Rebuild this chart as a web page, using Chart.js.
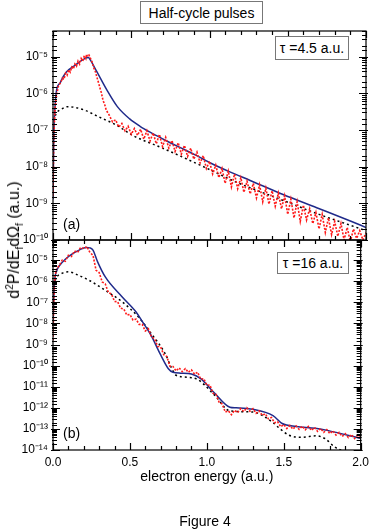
<!DOCTYPE html>
<html>
<head>
<meta charset="utf-8">
<script src="https://cdn.jsdelivr.net/npm/chart.js@4.4.1/dist/chart.umd.min.js"></script>
<style>
  body { margin:0; background:#fff; font-family:"Liberation Sans", Arial, Helvetica, sans-serif; color:#000; }
  #wrap { position:relative; width:374px; height:530px; overflow:hidden; }
  canvas { position:absolute; left:0; top:0; }
  .box { position:absolute; border:1px solid #777; background:#fff; font-size:14px; display:flex; align-items:center; justify-content:center; box-sizing:border-box; white-space:nowrap; }
  .lbl { position:absolute; font-size:14px; white-space:nowrap; }
  sup, sub { font-size:10px; line-height:0; }
</style>
</head>
<body>
<div id="wrap">
  <canvas id="ca" width="374" height="530"></canvas>
  <canvas id="cb" width="374" height="530"></canvas>
  <div class="box" style="left:140px;top:1px;width:123px;height:23px;">Half-cycle pulses</div>
  <div class="box" style="left:275px;top:36px;width:74px;height:24px;">τ =4.5 a.u.</div>
  <div class="box" style="left:277px;top:252px;width:72px;height:22px;">τ =16 a.u.</div>
  <div class="lbl" style="left:63px;top:216px;">(a)</div>
  <div class="lbl" style="left:63px;top:425px;">(b)</div>
  <div class="lbl" style="left:14px;top:240px;font-size:16px;transform:translate(-50%,-50%) rotate(-90deg);">d<sup>2</sup>P/dE<sub>f</sub>dΩ<sub>f</sub> (a.u.)</div>
  <div class="lbl" style="left:205px;top:521px;transform:translate(-50%,-50%);">Figure 4</div>
</div>
<script>
// ---------- Panel (a): tau = 4.5 a.u. ----------
const energyA_blue = [0,0.005,0.013,0.024,0.045,0.066,0.087,0.13,0.17,0.2,0.226,0.24,0.28,0.343,0.41,0.49,0.556,0.62,0.705,0.8,0.918,1.0,1.13,1.26,1.47,1.685,1.9,2.0];
const blueA = [1.3e-9,6.3e-8,4.4e-7,1.3e-6,1.9e-6,2.9e-6,3.9e-6,5.4e-6,7.2e-6,8.7e-6,9.5e-6,7.9e-6,3.9e-6,1.26e-6,4.4e-7,2.0e-7,1.26e-7,8.7e-8,5.6e-8,3.5e-8,2.0e-8,1.3e-8,7.2e-9,4.2e-9,1.74e-9,7.6e-10,3.3e-10,2.2e-10];

const energyA_black = [0.005,0.02,0.05,0.09,0.13,0.2,0.3,0.4,0.51,0.7,0.94,1.19,1.43,1.7,2.0];
const blackA = [1.8e-7,2.8e-7,3.6e-7,4.3e-7,4.2e-7,3.5e-7,2.2e-7,1.4e-7,7.1e-8,3.2e-8,1.1e-8,3.5e-9,1.4e-9,5.0e-10,1.8e-10];

const energyA_red = [0,0.004,0.008,0.012,0.018,0.025,0.035,0.05,0.06,0.07,0.08,0.09,0.1,0.11,0.12,0.13,0.14,0.15,0.16,0.17,0.18,0.19,0.2,0.21,0.215,0.22,0.23,0.24,0.25,0.26,0.27,0.28,0.29,0.3,0.31,0.32,0.33,0.34,0.36,0.38,0.4,0.42,0.44,0.46,0.48,0.5,0.52,0.54,0.56,0.58,0.6,0.62,0.64,0.66,0.68,0.7,0.72,0.74,0.76,0.78,0.8,0.82,0.84,0.86,0.88,0.9,0.92,0.94,0.96,0.98,1.0,1.02,1.04,1.06,1.08,1.1,1.12,1.14,1.16,1.18,1.2,1.22,1.24,1.26,1.28,1.3,1.32,1.34,1.36,1.38,1.4,1.42,1.44,1.46,1.48,1.5,1.52,1.54,1.56,1.58,1.6,1.62,1.64,1.66,1.68,1.7,1.72,1.74,1.76,1.78,1.8,1.82,1.84,1.86,1.88,1.9,1.92,1.94,1.96,1.98,2.0];
const redA = [1.6e-9,2.5e-8,1.26e-7,3.2e-7,6.3e-7,1.0e-6,1.6e-6,2.0e-6,2.6e-6,2.4e-6,3.5e-6,3.1e-6,4.4e-6,3.8e-6,5.2e-6,4.6e-6,6.3e-6,5.5e-6,7.6e-6,6.3e-6,8.9e-6,7.6e-6,1.07e-5,8.9e-6,1.17e-5,1.0e-5,1.1e-5,8.9e-6,7.1e-6,5.0e-6,4.0e-6,2.8e-6,2.0e-6,1.4e-6,1.0e-6,6.3e-7,5.0e-7,3.5e-7,2.5e-7,1.66e-7,1.9e-7,1.2e-7,1.5e-7,9.5e-8,1.26e-7,7.6e-8,1.1e-7,7.1e-8,1.05e-7,5.6e-8,9.5e-8,5.0e-8,8.3e-8,4.2e-8,7.6e-8,3.5e-8,6.3e-8,3.2e-8,5.2e-8,2.6e-8,4.5e-8,2.2e-8,3.8e-8,1.9e-8,3.2e-8,1.6e-8,2.5e-8,1.26e-8,2.0e-8,8.9e-9,1.4e-8,6.3e-9,1.1e-8,5.0e-9,8.9e-9,3.5e-9,7.6e-9,2.8e-9,6.3e-9,2.5e-9,5.0e-9,2.0e-9,4.0e-9,1.8e-9,3.5e-9,1.4e-9,3.2e-9,1.1e-9,2.6e-9,9.5e-10,2.2e-9,8.3e-10,1.9e-9,7.1e-10,1.6e-9,5.0e-10,1.3e-9,4.0e-10,1.1e-9,3.2e-10,8.9e-10,3.5e-10,7.1e-10,2.8e-10,5.6e-10,2.0e-10,5.0e-10,1.6e-10,4.0e-10,1.4e-10,3.2e-10,1.26e-10,2.8e-10,1.0e-10,2.2e-10,8.9e-11,2.0e-10,1.1e-10,1.8e-10,1.0e-10,1.6e-10];

// ---------- Panel (b): tau = 16 a.u. ----------
const energyB_blue = [0,0.005,0.011,0.025,0.045,0.08,0.13,0.17,0.215,0.24,0.26,0.29,0.34,0.45,0.54,0.58,0.64,0.70,0.75,0.78,0.83,0.9,0.96,1.05,1.15,1.19,1.30,1.43,1.49,1.58,1.705,1.79,2.0];
const blueB = [1.0e-8,1.6e-7,1.1e-6,3.2e-6,5.8e-6,1.1e-5,2.1e-5,3.0e-5,4.0e-5,3.8e-5,3.0e-5,8.3e-6,1.6e-6,1.8e-7,3.5e-8,1.26e-8,2.5e-9,3.2e-10,7.1e-11,4.8e-11,4.4e-11,4.0e-11,2.4e-11,5.0e-12,1.07e-12,1.0e-12,8.5e-13,4.3e-13,1.8e-13,1.3e-13,1.07e-13,8.3e-14,3.5e-14];

const energyB_black = [0.005,0.02,0.05,0.1,0.16,0.235,0.34,0.45,0.556,0.64,0.73,0.77,0.8,0.87,0.94,1.05,1.15,1.3,1.43,1.47,1.535,1.62,1.71,1.77,1.83,1.88,1.92];
const blackB = [6.3e-7,1.4e-6,2.2e-6,2.8e-6,2.0e-6,1.1e-6,3.7e-7,1.05e-7,2.0e-8,3.2e-9,3.6e-10,7.9e-11,3.5e-11,2.8e-11,2.2e-11,4.0e-12,7.1e-13,6.3e-13,2.0e-13,1.1e-13,5.0e-14,4.0e-14,4.7e-14,3.4e-14,1.4e-14,8.9e-15,5.0e-15];

const energyB_red = [0,0.005,0.01,0.02,0.04,0.06,0.08,0.1,0.12,0.14,0.16,0.18,0.2,0.22,0.24,0.26,0.28,0.3,0.32,0.34,0.36,0.38,0.4,0.42,0.44,0.46,0.48,0.5,0.52,0.54,0.56,0.58,0.6,0.62,0.64,0.66,0.68,0.7,0.72,0.74,0.76,0.78,0.8,0.82,0.84,0.86,0.88,0.9,0.92,0.94,0.96,0.98,1.0,1.02,1.04,1.06,1.08,1.1,1.12,1.14,1.16,1.18,1.2,1.22,1.24,1.26,1.28,1.3,1.32,1.34,1.36,1.38,1.4,1.42,1.44,1.46,1.48,1.5,1.52,1.54,1.56,1.58,1.6,1.62,1.64,1.66,1.68,1.7,1.72,1.74,1.76,1.78,1.8,1.82,1.84,1.86,1.88,1.9,1.92,1.94,1.96,1.98,2.0];
const redB = [1.6e-9,1.0e-7,1.0e-6,3.5e-6,5.5e-6,1.0e-5,8.9e-6,1.7e-5,1.5e-5,2.7e-5,2.3e-5,4.0e-5,3.5e-5,4.4e-5,2.3e-5,1.7e-5,3.3e-6,2.6e-6,9.3e-7,7.4e-7,2.9e-7,2.5e-7,1.1e-7,1.07e-7,5.2e-8,4.8e-8,2.5e-8,2.7e-8,1.45e-8,1.6e-8,9.0e-9,9.0e-9,4.4e-9,5.6e-9,2.3e-9,1.9e-9,8.3e-10,7.6e-10,3.3e-10,2.7e-10,9.3e-11,9.1e-11,5.6e-11,7.8e-11,5.2e-11,7.2e-11,4.8e-11,6.3e-11,3.9e-11,4.9e-11,2.3e-11,2.4e-11,1.17e-11,1.2e-11,4.9e-12,4.3e-12,1.86e-12,1.5e-12,6.3e-13,7.2e-13,4.7e-13,7.6e-13,5.9e-13,9.1e-13,6.6e-13,1.0e-12,6.9e-13,9.1e-13,5.5e-13,7.2e-13,4.4e-13,5.2e-13,3.0e-13,3.5e-13,1.95e-13,2.2e-13,1.26e-13,1.6e-13,1.05e-13,1.45e-13,9.8e-14,1.4e-13,9.5e-14,1.35e-13,9.1e-14,1.3e-13,8.5e-14,1.17e-13,7.6e-14,1.05e-13,6.8e-14,9.3e-14,6.0e-14,8.1e-14,5.1e-14,6.8e-14,4.4e-14,5.9e-14,3.9e-14,5.4e-14,3.5e-14,5.0e-14,3.5e-14];

const xTickLabels = ['0.0','0.5','1.0','1.5','2.0'];

// ---------- helpers ----------
const FONT = '"Liberation Sans", Arial, Helvetica, sans-serif';
Chart.defaults.font.family = FONT;
Chart.defaults.color = '#000';

const pts = (xs, ys) => xs.map((x, i) => ({x: x, y: ys[i]}));
const SUP = {'-':'\u207B','0':'\u2070','1':'\u00B9','2':'\u00B2','3':'\u00B3','4':'\u2074','5':'\u2075','6':'\u2076','7':'\u2077','8':'\u2078','9':'\u2079'};
function decadeLabel(v) {
  const l = Math.log10(v), r = Math.round(l);
  if (Math.abs(l - r) < 1e-6) return '10' + String(r).split('').map(c => SUP[c]).join('');
  return '';
}
function isDecade(v) { const l = Math.log10(v); return Math.abs(l - Math.round(l)) < 1e-6; }
function isHalf(v) { return Math.abs(v * 2 - Math.round(v * 2)) < 1e-6; }

const framePlugin = {
  id: 'frame',
  afterDraw(chart) {
    const ctx = chart.ctx, a = chart.chartArea;
    const xs = chart.scales.x, ys = chart.scales.y;
    ctx.save();
    ctx.strokeStyle = '#000';
    ctx.lineWidth = 1.2;
    ctx.strokeRect(a.left, a.top, a.right - a.left, a.bottom - a.top);
    ctx.beginPath();
    xs.ticks.forEach(t => {
      const px = Math.round(xs.getPixelForValue(t.value)) + 0.5;
      const L = isHalf(t.value) ? 7 : 4;
      ctx.moveTo(px, a.bottom); ctx.lineTo(px, a.bottom - L);
      ctx.moveTo(px, a.top); ctx.lineTo(px, a.top + L);
    });
    ys.ticks.forEach(t => {
      const py = Math.round(ys.getPixelForValue(t.value)) + 0.5;
      if (py < a.top - 0.5 || py > a.bottom + 1) return;
      const maj = isDecade(t.value);
      const L = maj ? 7 : 4;
      ctx.moveTo(a.left - (maj ? 2 : 1), py); ctx.lineTo(a.left + L, py);
      ctx.moveTo(a.right + (maj ? 2 : 1), py); ctx.lineTo(a.right - L, py);
    });
    ctx.stroke();
    ctx.restore();
  }
};

function makeChart(id, red, blue, black, yMin, yMax, padTop, padBottom, showX) {
  return new Chart(document.getElementById(id), {
    type: 'line',
    data: {
      datasets: [
        { data: red, borderColor: '#ff1a1a', borderWidth: 1.6, borderDash: [2, 1.5], pointRadius: 0, tension: 0, fill: false },
        { data: blue, borderColor: '#1f2a8a', borderWidth: 1.5, pointRadius: 0, cubicInterpolationMode: 'monotone', fill: false },
        { data: black, borderColor: '#000', borderWidth: 1.5, borderDash: [2, 3], pointRadius: 0, cubicInterpolationMode: 'monotone', fill: false }
      ]
    },
    options: {
      responsive: false,
      animation: false,
      devicePixelRatio: 1,
      events: [],
      layout: { padding: { left: 0, right: 8, top: padTop, bottom: padBottom } },
      plugins: { legend: { display: false }, tooltip: { enabled: false } },
      scales: {
        x: {
          type: 'linear', min: 0, max: 2,
          grid: { display: false, drawTicks: false },
          border: { display: false },
          ticks: {
            display: showX, stepSize: 0.1, autoSkip: false, maxRotation: 0, padding: 5,
            font: { size: 12 },
            callback: v => isHalf(v) ? xTickLabels[Math.round(v * 2)] : ''
          },
          title: { display: showX, text: 'electron energy (a.u.)', font: { size: 14 }, padding: { top: 0, bottom: 0 } },
          afterFit: s => { s.height = showX ? 36 : 0; }
        },
        y: {
          type: 'logarithmic', min: yMin, max: yMax,
          grid: { display: false, drawTicks: false },
          border: { display: false },
          ticks: { autoSkip: false, padding: 5, font: { size: 12 }, callback: v => decadeLabel(v) },
          afterFit: s => { s.width = 53; }
        }
      }
    },
    plugins: [framePlugin]
  });
}

makeChart('ca', pts(energyA_red, redA), pts(energyA_blue, blueA), pts(energyA_black, blackA), 1e-10, 5e-5, 31, 290, false);
makeChart('cb', pts(energyB_red, redB), pts(energyB_blue, blueB), pts(energyB_black, blackB), 1e-14, 9e-5, 240, 44, true);
</script>
</body>
</html>
